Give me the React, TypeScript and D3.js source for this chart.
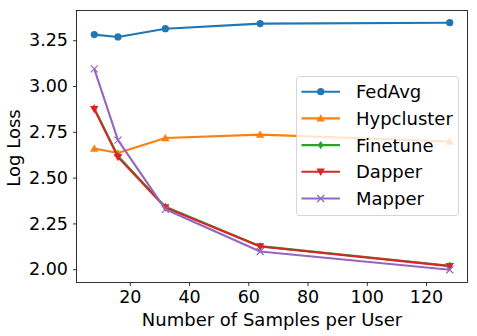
import React, { useEffect, useRef } from "react";
import * as d3 from "d3";

// samples per user (x) and log loss per method
const samples = [8, 16, 32, 64, 128];
const fedAvg = [3.281, 3.268, 3.313, 3.341, 3.346];
const hypcluster = [2.659, 2.634, 2.716, 2.735, 2.697];
const finetune = [2.879, 2.618, 2.341, 2.126, 2.019];
const dapper = [2.874, 2.612, 2.337, 2.124, 2.017];
const mapper = [3.094, 2.705, 2.327, 2.097, 1.997];
const xTicks = [20, 40, 60, 80, 100, 120];
const yTicks = [2.0, 2.25, 2.5, 2.75, 3.0, 3.25];

const series = [
  { name: "FedAvg", values: fedAvg, color: "#1f77b4", marker: "circle" },
  { name: "Hypcluster", values: hypcluster, color: "#ff7f0e", marker: "triangle" },
  { name: "Finetune", values: finetune, color: "#2ca02c", marker: "diamond" },
  { name: "Dapper", values: dapper, color: "#d62728", marker: "tridown" },
  { name: "Mapper", values: mapper, color: "#9467bd", marker: "x" },
];

const W = 477;
const H = 336;
const margin = { top: 10.5, right: 9.5, bottom: 53.5, left: 76.5 };
const FONT = "DejaVu Sans, sans-serif";

// draws a matplotlib-ish marker centred on (0,0)
function drawMarker(g: any, kind: string, color: string) {
  if (kind === "circle") {
    g.append("circle").attr("r", 3.6).attr("fill", color);
  } else if (kind === "triangle") {
    g.append("path").attr("d", "M0,-4.2L4.2,3.2L-4.2,3.2Z").attr("fill", color);
  } else if (kind === "tridown") {
    g.append("path").attr("d", "M0,4.2L4.2,-3.2L-4.2,-3.2Z").attr("fill", color);
  } else if (kind === "diamond") {
    g.append("path").attr("d", "M0,-4.2L2.8,0L0,4.2L-2.8,0Z").attr("fill", color);
  } else {
    g.append("path")
      .attr("d", "M-3.5,-3.5L3.5,3.5M-3.5,3.5L3.5,-3.5")
      .attr("stroke", color)
      .attr("stroke-width", 1.2);
  }
}

const App = () => {
  const svgRef = useRef<SVGSVGElement>(null);

  useEffect(() => {
    const svg = d3.select(svgRef.current);
    svg.selectAll("*").remove();

    const x = d3
      .scaleLinear()
      .domain([2, 134])
      .range([margin.left, W - margin.right]);

    const y = d3
      .scaleLinear()
      .domain([1.9275, 3.4125])
      .range([H - margin.bottom, margin.top]);

    svg.append("rect").attr("width", W).attr("height", H).attr("fill", "white");

    // axes
    const xAxis = svg
      .append("g")
      .attr("transform", `translate(0,${H - margin.bottom})`)
      .call(d3.axisBottom(x).tickValues(xTicks).tickSize(3.5).tickPadding(5).tickFormat(d3.format("d")));
    const yAxis = svg
      .append("g")
      .attr("transform", `translate(${margin.left},0)`)
      .call(d3.axisLeft(y).tickValues(yTicks).tickSize(3.5).tickPadding(5).tickFormat(d3.format(".2f")));

    [xAxis, yAxis].forEach((ax) => {
      ax.select(".domain").remove();
      ax.selectAll("line").attr("stroke", "#000").attr("stroke-width", 0.8);
      ax.selectAll("text").attr("font-family", FONT).attr("font-size", 17.5).attr("fill", "#000");
    });

    // frame
    svg
      .append("rect")
      .attr("x", margin.left)
      .attr("y", margin.top)
      .attr("width", W - margin.left - margin.right)
      .attr("height", H - margin.top - margin.bottom)
      .attr("fill", "none")
      .attr("stroke", "#000")
      .attr("stroke-width", 0.8);

    const line = d3
      .line<number>()
      .x((_, i) => x(samples[i]))
      .y((d) => y(d));

    series.forEach((s) => {
      svg
        .append("path")
        .datum(s.values)
        .attr("d", line)
        .attr("fill", "none")
        .attr("stroke", s.color)
        .attr("stroke-width", 2.1)
        .attr("stroke-linejoin", "round");
      s.values.forEach((v, i) => {
        const g = svg.append("g").attr("transform", `translate(${x(samples[i])},${y(v)})`);
        drawMarker(g, s.marker, s.color);
      });
    });

    // axis titles
    svg
      .append("text")
      .attr("x", (margin.left + W - margin.right) / 2)
      .attr("y", 326)
      .attr("text-anchor", "middle")
      .attr("font-family", FONT)
      .attr("font-size", 18)
      .text("Number of Samples per User");
    svg
      .append("text")
      .attr("transform", `translate(19.5,148) rotate(-90)`)
      .attr("text-anchor", "middle")
      .attr("font-family", FONT)
      .attr("font-size", 18)
      .text("Log Loss");

    // legend
    const lg = svg.append("g").attr("transform", "translate(296.5,76.5)");
    lg.append("rect")
      .attr("width", 162)
      .attr("height", 139)
      .attr("rx", 3)
      .attr("fill", "white")
      .attr("fill-opacity", 0.8)
      .attr("stroke", "#ccc")
      .attr("stroke-width", 0.8);
    series.forEach((s, i) => {
      const row = lg.append("g").attr("transform", `translate(0,${15.2 + i * 26.7})`);
      row.append("line")
        .attr("x1", 5)
        .attr("x2", 43.5)
        .attr("stroke", s.color)
        .attr("stroke-width", 2.1);
      drawMarker(row.append("g").attr("transform", "translate(24.2,0)"), s.marker, s.color);
      row.append("text")
        .attr("x", 59.5)
        .attr("y", 6.5)
        .attr("font-family", FONT)
        .attr("font-size", 18)
        .text(s.name);
    });
  }, []);

  return (
    <svg
      ref={svgRef}
      width={W}
      height={H}
      style={{ position: "absolute", left: 0, top: 0 }}
    />
  );
};

export default App;
